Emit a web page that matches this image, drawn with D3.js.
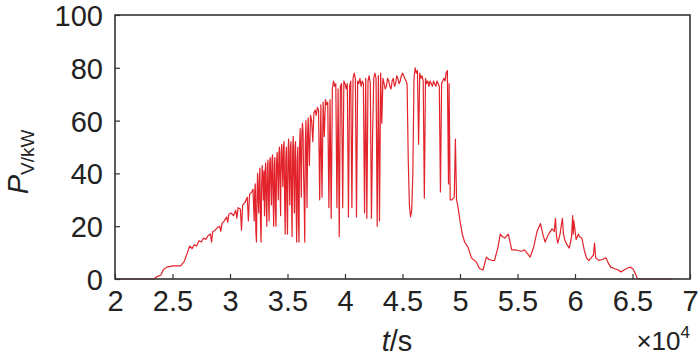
<!DOCTYPE html>
<html>
<head>
<meta charset="utf-8">
<script src="https://cdn.jsdelivr.net/npm/d3@7"></script>
<style>
  body { margin: 0; background: #fff; }
  text { font-family: "Liberation Sans", Arial, sans-serif; fill: #222; }
</style>
</head>
<body>
<script>
// time in units of 1e4 s, power in kW
var morningRamp = [
  [2.00,0],[2.34,0],[2.36,0.8],[2.40,1.5],[2.42,3.5],[2.45,4.5],[2.50,5],[2.57,5],
  [2.60,6.5],[2.63,10],[2.65,12.5],[2.67,11.5],[2.69,13],[2.71,12.5],[2.73,14.5],
  [2.75,14],[2.77,15.5],[2.79,15],[2.81,16.5],[2.83,17],[2.84,14],[2.85,18],
  [2.87,18.5],[2.89,19.5],[2.91,20],[2.92,18],[2.93,21],[2.95,22],[2.97,23.5],
  [2.98,21.5],[2.99,24.5],[3.01,25],[3.03,24],[3.05,26],[3.06,23],[3.07,27],
  [3.09,26.5],[3.10,18.5],[3.11,28],[3.13,29],[3.15,31],[3.16,22],[3.17,32],
  [3.19,33],[3.20,34]
];

var cloudyNoon = [
  [3.205,28],[3.21,22],[3.215,33],[3.22,36],[3.225,18],[3.23,14],[3.235,32],[3.24,40],
  [3.245,30],[3.25,25],[3.255,38],[3.26,42],[3.265,22],[3.27,14],[3.275,35],[3.28,43],
  [3.285,38],[3.29,30],[3.295,41],[3.30,24],[3.305,40],[3.31,44],[3.315,28],[3.32,20],
  [3.325,42],[3.33,45],[3.335,30],[3.34,22],[3.345,44],[3.35,46],[3.355,36],[3.36,28],
  [3.365,45],[3.37,47],[3.375,30],[3.38,20],[3.385,43],[3.39,46],[3.395,26],[3.40,20],
  [3.405,44],[3.41,48],[3.415,40],[3.42,30],[3.425,47],[3.43,50],[3.435,36],[3.44,24],
  [3.445,48],[3.45,51],[3.455,42],[3.46,35],[3.465,50],[3.47,52],[3.475,30],[3.48,17],
  [3.485,45],[3.49,50],[3.495,28],[3.50,17],[3.505,48],[3.51,53],[3.515,40],[3.52,28],
  [3.525,50],[3.53,52],[3.535,30],[3.54,16],[3.545,49],[3.55,54],[3.555,38],[3.56,25],
  [3.565,50],[3.57,52],[3.575,28],[3.58,14],[3.585,45],[3.59,50],[3.595,22],[3.60,14],
  [3.605,50],[3.61,57],[3.615,45],[3.62,31],[3.625,55],[3.63,59],[3.635,56],[3.64,40],
  [3.645,30],[3.65,14],[3.655,52],[3.66,60],[3.665,45],[3.67,27],[3.675,55],[3.68,61],
  [3.69,43],[3.70,62],[3.71,60],[3.72,52],[3.73,63],[3.74,64],[3.75,62],[3.76,65],
  [3.77,64],[3.78,30],[3.79,66],[3.80,31],[3.81,67],[3.82,54],[3.83,68],[3.84,66],
  [3.85,67],[3.86,27],[3.87,68],[3.88,23],[3.89,72],[3.90,75],[3.91,73],[3.92,74],
  [3.93,27],[3.94,72],[3.95,16],[3.96,73],[3.97,74],[3.98,27],[3.99,75],[4.00,74],
  [4.01,72],[4.02,74],[4.03,23.5],[4.04,73],[4.05,75],[4.06,27],[4.07,76],[4.08,78],
  [4.09,76],[4.10,23.5],[4.11,75],[4.12,74],[4.13,76],[4.14,73],[4.15,75],[4.16,74],
  [4.17,25],[4.18,76],[4.19,23],[4.20,75],[4.21,77],[4.22,74],[4.23,23],[4.24,55],
  [4.25,76],[4.26,78],[4.27,76],[4.28,20],[4.29,77],[4.30,22],[4.31,78],[4.32,59],
  [4.33,76],[4.34,74],[4.35,72],[4.36,73],[4.37,76],[4.38,75],[4.39,73],[4.40,72],
  [4.41,75],[4.42,76],[4.43,73],[4.44,74],[4.45,77],[4.46,76],[4.47,74],[4.48,75],
  [4.49,77],[4.50,78],[4.51,77],[4.52,76],[4.53,75],[4.54,74],[4.55,45],[4.56,28],
  [4.57,23.5],[4.58,26],[4.59,40],[4.60,76],[4.61,80],[4.62,78],[4.63,79],[4.64,51],
  [4.65,78],[4.66,76],[4.67,77],[4.68,75],[4.69,30.6],[4.70,76],[4.71,74],[4.72,75],
  [4.73,73],[4.74,75],[4.75,74],[4.76,73],[4.77,75],[4.78,74],[4.79,73],[4.80,75],
  [4.81,74],[4.82,73],[4.83,33],[4.84,74],[4.85,75],[4.86,76],[4.87,75],[4.88,78],
  [4.89,79],[4.90,36],[4.905,74],[4.915,30],[4.93,30],[4.95,31],[4.96,53],[4.97,30],
  [4.98,28]
];

var afternoon = [
  [5.00,22],[5.02,17],[5.04,14],[5.07,12],[5.10,8],[5.14,6.5],[5.17,4],[5.20,3.4],
  [5.23,8.3],[5.25,7.5],[5.28,7],[5.30,7],[5.33,12],[5.35,17],[5.37,16],[5.39,15.5],
  [5.42,17],[5.45,11],[5.49,11],[5.53,10.5],[5.56,11],[5.58,10],[5.61,8.3],[5.64,12],
  [5.67,18],[5.70,21],[5.72,17],[5.74,14],[5.77,17],[5.80,19],[5.82,18],[5.83,23],
  [5.84,16],[5.85,13.6],[5.87,17],[5.89,23],[5.90,17],[5.91,15],[5.93,13],[5.95,11.7],
  [5.97,16],[5.98,24],[5.985,17],[5.99,22],[6.01,15],[6.03,17],[6.04,16],[6.06,15.5],
  [6.08,11],[6.10,8],[6.12,7],[6.14,8],[6.16,9],[6.17,13.6],[6.18,8],[6.21,7],
  [6.24,7.5],[6.27,8],[6.29,6],[6.31,4.5],[6.34,4],[6.37,3.5],[6.40,2.7],[6.43,3.5],
  [6.45,4],[6.48,4.5],[6.50,4],[6.51,3.4],[6.53,1.5],[6.54,0.4],[6.56,0],[6.85,0]
];

var xTicks = [2, 2.5, 3, 3.5, 4, 4.5, 5, 5.5, 6, 6.5, 7];
var yTicks = [0, 20, 40, 60, 80, 100];

var width = 700, height = 359;
var plotLeft = 115, plotRight = 690, plotTop = 15, plotBottom = 279;

var svg = d3.select("body").append("svg")
  .attr("width", width)
  .attr("height", height);

var x = d3.scaleLinear().domain([2, 7]).range([plotLeft, plotRight]);
var y = d3.scaleLinear().domain([0, 100]).range([plotBottom, plotTop]);

var trace = morningRamp.concat(cloudyNoon, afternoon);

var line = d3.line()
  .x(function (d) { return x(d[0]); })
  .y(function (d) { return y(d[1]); });

svg.append("path")
  .datum(trace)
  .attr("d", line)
  .attr("fill", "none")
  .attr("stroke", "#e3232b")
  .attr("stroke-width", 1.2)
  .attr("stroke-linejoin", "round");

// box
svg.append("rect")
  .attr("x", plotLeft)
  .attr("y", plotTop)
  .attr("width", plotRight - plotLeft)
  .attr("height", plotBottom - plotTop)
  .attr("fill", "none")
  .attr("stroke", "#333")
  .attr("stroke-width", 1.6);

var xAxis = svg.append("g")
  .attr("transform", "translate(0," + plotBottom + ")")
  .call(d3.axisBottom(x).tickValues(xTicks).tickSize(-5).tickPadding(11)
    .tickFormat(function (d) { return d3.format("")(d); }));

var yAxis = svg.append("g")
  .attr("transform", "translate(" + plotLeft + ",0)")
  .call(d3.axisLeft(y).tickValues(yTicks).tickSize(-5).tickPadding(12));

[xAxis, yAxis].forEach(function (a) {
  a.select(".domain").remove();
  a.selectAll("line").attr("stroke", "#333").attr("stroke-width", 1.2);
  a.selectAll("text")
    .style("font-size", "29px")
    .style("font-family", "'Liberation Sans', Arial, sans-serif")
    .attr("fill", "#222");
});
xAxis.selectAll("text").attr("dy", "0.71em");
yAxis.selectAll("text").attr("dy", "0.36em");

// y label
var yl = svg.append("text")
  .attr("transform", "translate(28,162) rotate(-90)")
  .attr("text-anchor", "middle")
  .style("font-size", "29px");
yl.append("tspan").style("font-style", "italic").text("P");
yl.append("tspan").attr("dy", 6).style("font-size", "19px").text("V/kW");

// x label
var xl = svg.append("text")
  .attr("x", 397)
  .attr("y", 351)
  .attr("text-anchor", "middle")
  .style("font-size", "29px");
xl.append("tspan").style("font-style", "italic").text("t");
xl.append("tspan").text("/s");

// exponent
var ex = svg.append("text")
  .attr("x", 690)
  .attr("y", 350)
  .attr("text-anchor", "end")
  .style("font-size", "26px");
ex.append("tspan").text("\u00d710");
ex.append("tspan").attr("dy", -12).style("font-size", "17px").text("4");
</script>
</body>
</html>
